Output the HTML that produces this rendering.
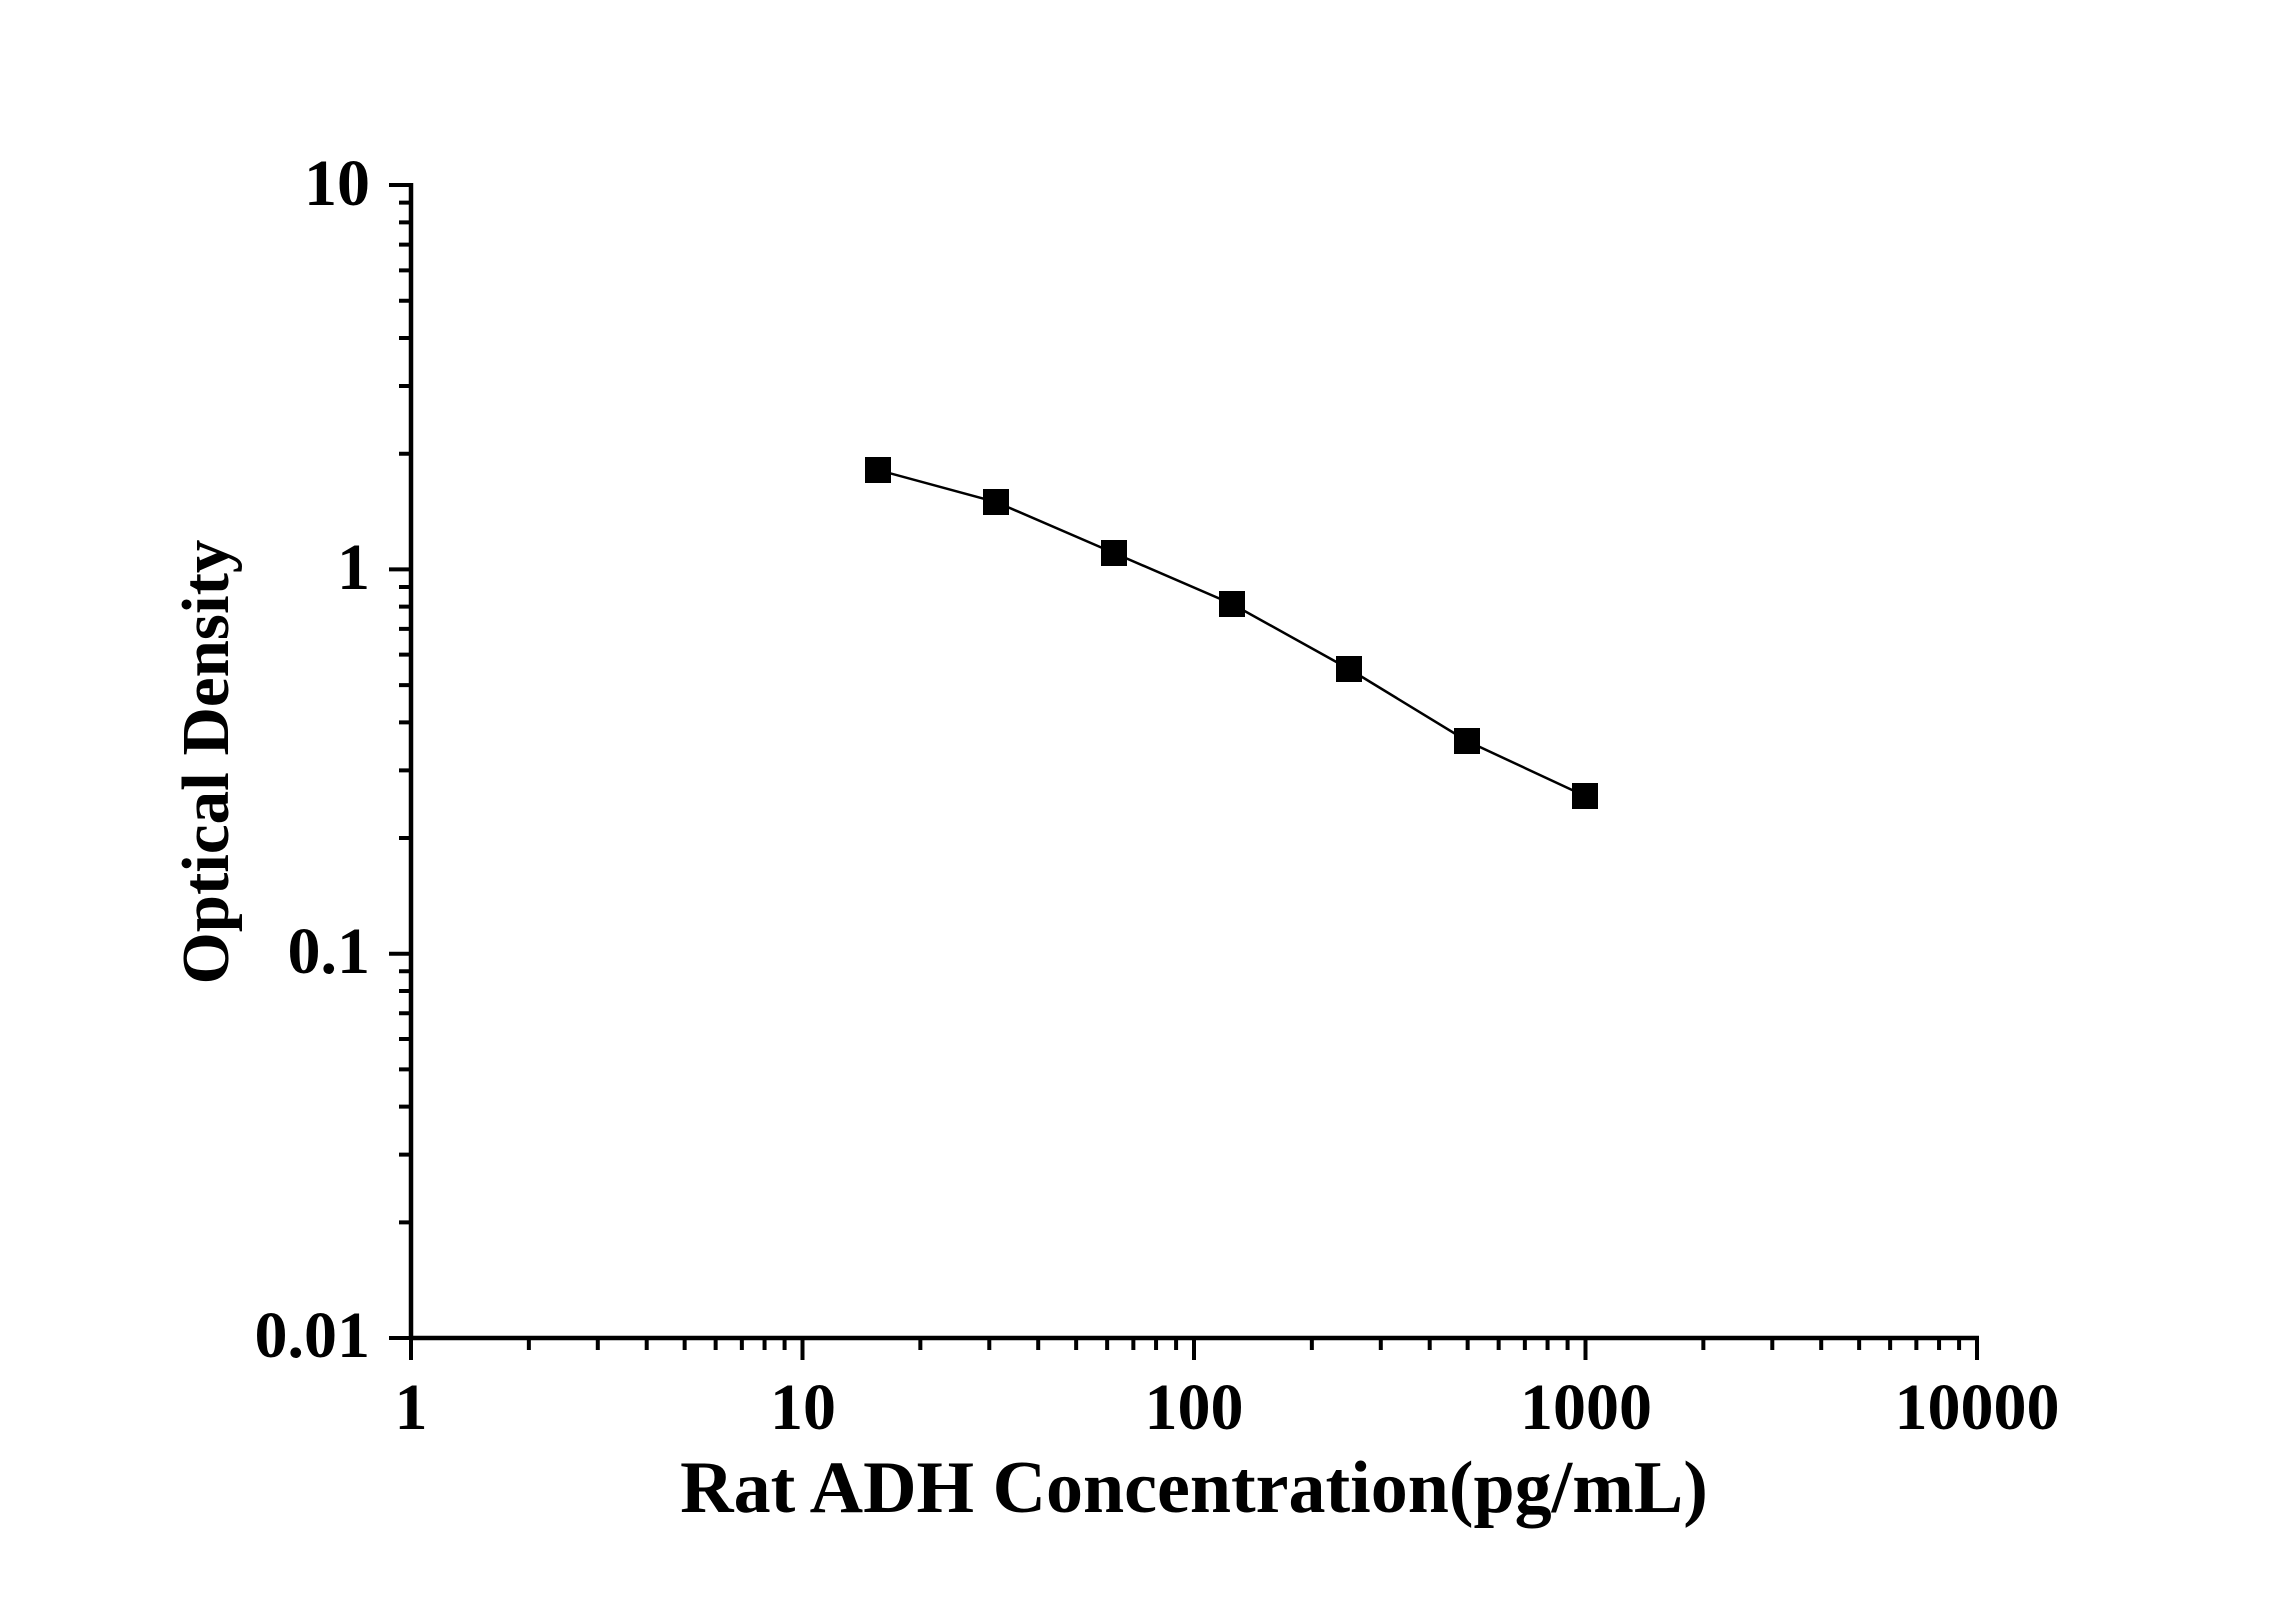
<!DOCTYPE html>
<html><head><meta charset="utf-8"><style>html,body{margin:0;padding:0;background:#fff}svg{display:block}</style></head>
<body>
<svg width="2296" height="1604" viewBox="0 0 2296 1604" xmlns="http://www.w3.org/2000/svg" font-family="'Liberation Serif', serif" font-weight="bold">
<g stroke="#000" stroke-width="4.5" fill="none">
<line x1="411" y1="183" x2="411" y2="1340"/>
<line x1="409" y1="1338" x2="1979" y2="1338"/>
</g>
<g id="tk" stroke="#000" stroke-width="4" fill="none"></g>
<polyline points="878,470 996,502 1114,553 1232,604 1349,669 1467,741 1585,796" fill="none" stroke="#000" stroke-width="2.5"/>
<g fill="#000">
<rect x="865" y="457" width="26" height="26"/><rect x="983" y="489" width="26" height="26"/><rect x="1101" y="540" width="26" height="26"/><rect x="1219" y="591" width="26" height="26"/><rect x="1336" y="656" width="26" height="26"/><rect x="1454" y="728" width="26" height="26"/><rect x="1572" y="783" width="26" height="26"/>
</g>
<g font-size="66" text-anchor="end">
<text x="370" y="205">10</text><text x="370" y="589">1</text><text x="370" y="973">0.1</text><text x="370" y="1357">0.01</text>
</g>
<g font-size="66" text-anchor="middle">
<text x="411" y="1429">1</text><text x="803" y="1429">10</text><text x="1194" y="1429">100</text><text x="1586" y="1429">1000</text><text x="1977" y="1429">10000</text>
</g>
<text x="1194" y="1512" font-size="74" text-anchor="middle">Rat ADH Concentration(pg/mL)</text>
<text transform="translate(228,762) rotate(-90)" font-size="67" text-anchor="middle">Optical Density</text>
<script>
var g=document.getElementById('tk'),s='';
var x0=411,dx=391.5,y0=1338,dy=384.3;
for(var d=0;d<4;d++)for(var k=1;k<10;k++){var x=x0+dx*(d+Math.log10(k));var L=k==1?22:12;s+='M'+x+' 1338V'+(1338+L);}
s+='M1977 1338V1360';
for(var d=0;d<3;d++)for(var k=1;k<10;k++){var y=y0-dy*(d+Math.log10(k));var L=k==1?22:12;s+='M411 '+y+'H'+(411-L);}
s+='M411 185H389';
var p=document.createElementNS('http://www.w3.org/2000/svg','path');p.setAttribute('d',s);g.appendChild(p);
</script>
</svg>
</body></html>
